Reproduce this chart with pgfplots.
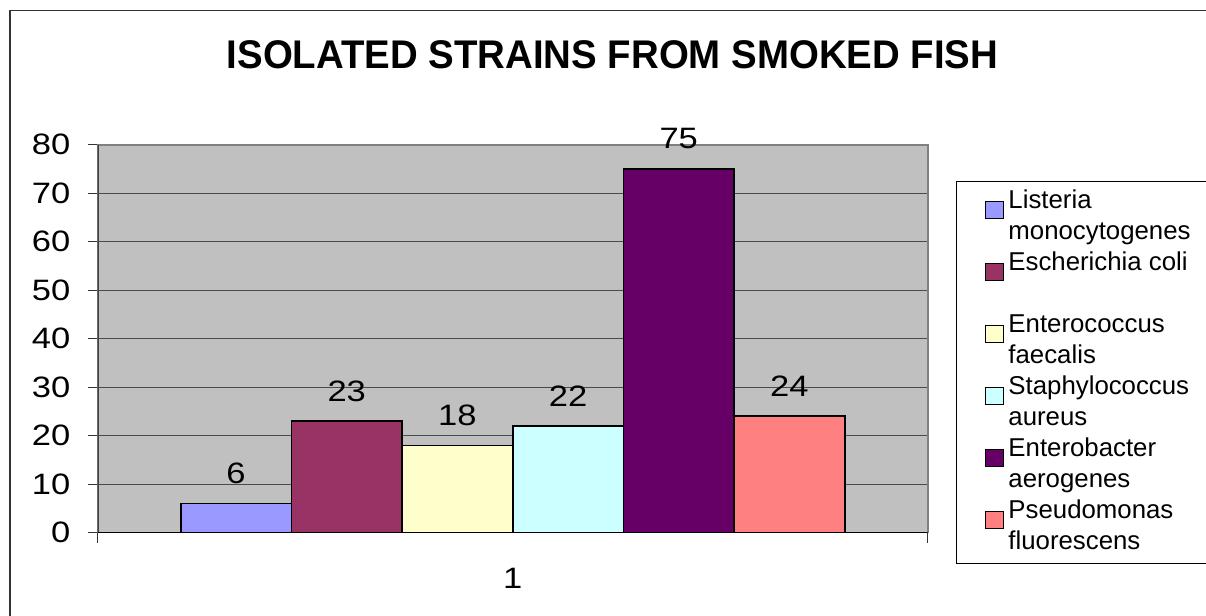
\documentclass[border=0pt]{standalone}
\usepackage{pgfplots}
\pgfplotsset{compat=1.18}
\usepackage{fontspec}
\setmainfont{Liberation Sans}
\newfontfamily\labfont[FakeStretch=1.17]{Liberation Sans}
\newfontfamily\titfont[FakeStretch=0.96]{Liberation Sans Bold}
\definecolor{c1}{HTML}{9999FF}
\definecolor{c2}{HTML}{993366}
\definecolor{c3}{HTML}{FFFFCC}
\definecolor{c4}{HTML}{CCFFFF}
\definecolor{c5}{HTML}{660066}
\definecolor{c6}{HTML}{FF8080}
\definecolor{plotbg}{HTML}{C0C0C0}
\definecolor{plotborder}{HTML}{808080}
\definecolor{gridc}{HTML}{4A4A4A}
\newcommand{\entry}[2]{\begin{tabular}{@{}p{110pt}@{}}#1\\#2\end{tabular}}
\begin{document}
\begin{tikzpicture}[x=1pt,y=1pt]
\useasboundingbox (0,0) rectangle (603,308);
\draw[line width=0.85pt, color=black!80] (5,-5) -- (5,302.75) -- (615,302.75);
\node[anchor=base, font=\titfont\fontsize{20}{24}\selectfont] at (306.25,273.5) {ISOLATED STRAINS FROM SMOKED FISH};
\begin{axis}[
  at={(48.85pt,41.65pt)}, anchor=south west,
  scale only axis, width=415pt, height=194pt,
  xmin=0, xmax=7.5, ymin=0, ymax=80,
  ytick={0,10,...,80},
  xtick={0,7.5}, xticklabels={,},
  extra x ticks={3.75}, extra x tick labels={1},
  extra x tick style={major tick length=0pt, xticklabel style={inner sep=0pt, anchor=north, yshift=-17.5pt}},
  xtick pos=left, ytick pos=left,
  tick align=outside, major tick length=5pt,
  ymajorgrids, major grid style={color=gridc, line width=0.5pt},
  axis background/.style={fill=plotbg},
  axis line style={draw=plotborder, line width=0.8pt},
  tick style={color=black!80, line width=0.6pt},
  ticklabel style={font=\labfont\fontsize{14.75}{17}\selectfont},
  yticklabel style={inner sep=0pt, xshift=-8.5pt},
  /pgf/number format/assume math mode=true,
  nodes near coords,
  every node near coord/.style={anchor=south, inner sep=0pt, yshift=9.5pt, text=black, font=\labfont\fontsize{14.75}{17}\selectfont},
  mybar/.style={ybar, bar width=1, bar shift=0pt, draw=black, line width=0.85pt,
    legend image code/.code={\path (0pt,0pt); \draw[##1, line width=0.7pt] (14pt,-0.3pt) rectangle (23pt,8.2pt);}},
  legend style={at={(1.0341,0.90644)}, anchor=north west, draw=black, line width=0.7pt, fill=white,
    inner xsep=0pt, inner ysep=2.5pt, font=\fontsize{12.9}{15.5}\selectfont,
    nodes={inner sep=0pt, text height=18.7pt, text depth=12.3pt}, /tikz/row sep=0pt, /tikz/column sep=2.1pt},
  legend cell align=left,
]
\addplot[mybar, fill=c1] coordinates {(1.25,6)};
\addlegendentry{\entry{Listeria}{monocytogenes}}
\addplot[mybar, fill=c2] coordinates {(2.25,23)};
\addlegendentry{\entry{Escherichia coli}{~}}
\addplot[mybar, fill=c3] coordinates {(3.25,18)};
\addlegendentry{\entry{Enterococcus}{faecalis}}
\addplot[mybar, fill=c4] coordinates {(4.25,22)};
\addlegendentry{\entry{Staphylococcus}{aureus}}
\addplot[mybar, fill=c5] coordinates {(5.25,75)};
\addlegendentry{\entry{Enterobacter}{aerogenes}}
\addplot[mybar, fill=c6] coordinates {(6.25,24)};
\addlegendentry{\entry{Pseudomonas}{fluorescens}}
\draw[color=black!75, line width=0.8pt] (rel axis cs:0,1) -- (rel axis cs:0,0);
\draw[color=black, line width=0.9pt] (rel axis cs:0,0) -- (rel axis cs:1,0);
\end{axis}
\end{tikzpicture}
\end{document}
